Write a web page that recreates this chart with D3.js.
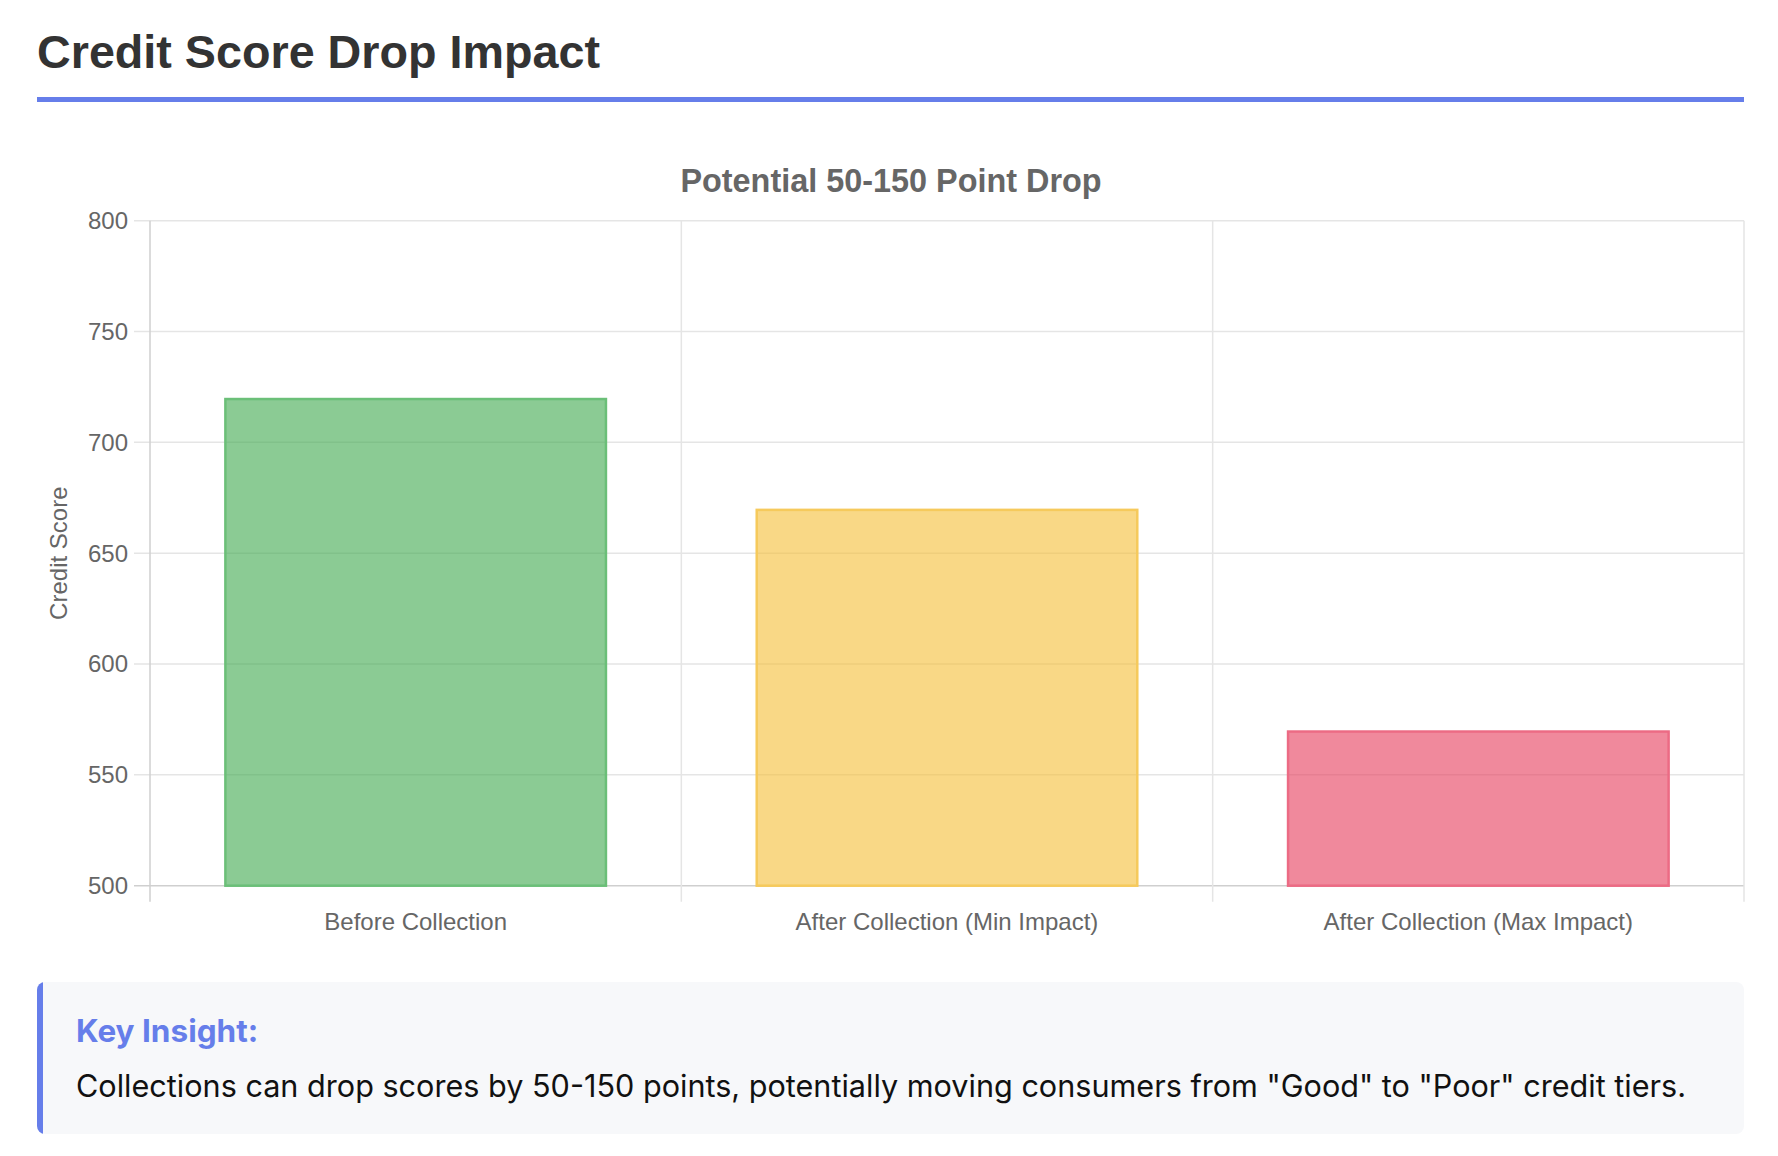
<!DOCTYPE html>
<html>
<head>
<meta charset="utf-8">
<script src="https://cdn.jsdelivr.net/npm/d3@7"></script>
<style>
  body { margin: 0; background: #fff; }
  svg { display: block; }
</style>
</head>
<body>
<svg id="chart" width="1778" height="1156"></svg>
<script>
// data
var categories = ['Before Collection', 'After Collection (Min Impact)', 'After Collection (Max Impact)'];
var scores = [720, 670, 570];
var fills = ['rgba(62,168,77,0.6)', 'rgba(245,190,53,0.6)', 'rgba(230,58,90,0.6)'];
var strokes = ['#6bbf78', '#f6ca5c', '#ec6b84'];
var yTicks = [500, 550, 600, 650, 700, 750, 800];

var svg = d3.select('#chart');
var chartFont = 'Liberation Sans, Helvetica, Arial, sans-serif';
var boxFont = 'Inter, Noto Sans, sans-serif';

// page heading
svg.append('text')
    .attr('x', 37).attr('y', 68)
    .attr('font-family', chartFont)
    .attr('font-weight', 'bold')
    .attr('font-size', 46.7)
    .attr('fill', '#333')
    .text('Credit Score Drop Impact');

svg.append('rect')
    .attr('x', 37).attr('y', 97)
    .attr('width', 1707).attr('height', 5)
    .attr('fill', '#667eea');

// plot area
var plot = {l: 150, r: 1744, t: 220.7, b: 885.7};

var x = d3.scaleBand().domain(categories).range([plot.l, plot.r]);
var y = d3.scaleLinear().domain([500, 800]).range([plot.b, plot.t]);

svg.append('text')
    .attr('x', 891).attr('y', 192)
    .attr('text-anchor', 'middle')
    .attr('font-family', chartFont)
    .attr('font-weight', 'bold')
    .attr('font-size', 32.4)
    .attr('fill', '#666')
    .text('Potential 50-150 Point Drop');

// horizontal grid
var g = svg.append('g');
g.selectAll('line.hgrid')
    .data(yTicks)
    .enter().append('line')
    .attr('class', 'hgrid')
    .attr('x1', plot.l - 16).attr('x2', plot.r)
    .attr('y1', function(d) { return y(d); })
    .attr('y2', function(d) { return y(d); })
    .attr('stroke', function(d) { return d == 500 ? '#cfcfcf' : '#e5e5e5'; })
    .attr('stroke-width', 1.5);

// vertical grid at category edges
var edges = categories.map(function(c) { return x(c); }).concat([plot.r]);
g.selectAll('line.vgrid')
    .data(edges)
    .enter().append('line')
    .attr('class', 'vgrid')
    .attr('x1', function(d) { return d; })
    .attr('x2', function(d) { return d; })
    .attr('y1', plot.t).attr('y2', plot.b + 16)
    .attr('stroke', function(d, i) { return i == 0 ? '#cfcfcf' : '#e5e5e5'; })
    .attr('stroke-width', 1.5);

// bars
var barW = x.bandwidth() * 0.72;
svg.selectAll('rect.bar')
    .data(scores)
    .enter().append('rect')
    .attr('class', 'bar')
    .attr('x', function(d, i) { return x(categories[i]) + (x.bandwidth() - barW) / 2 + 1; })
    .attr('y', function(d) { return y(d) + 1; })
    .attr('width', barW - 2)
    .attr('height', function(d) { return plot.b - y(d) - 1; })
    .attr('fill', function(d, i) { return fills[i]; })
    .attr('stroke', function(d, i) { return strokes[i]; })
    .attr('stroke-width', 2.5);

// y tick labels
svg.selectAll('text.ytick')
    .data(yTicks)
    .enter().append('text')
    .attr('class', 'ytick')
    .attr('x', 128)
    .attr('y', function(d) { return y(d); })
    .attr('dy', '0.35em')
    .attr('text-anchor', 'end')
    .attr('font-family', chartFont)
    .attr('font-size', 24)
    .attr('fill', '#666')
    .text(function(d) { return d; });

// x tick labels
svg.selectAll('text.xtick')
    .data(categories)
    .enter().append('text')
    .attr('class', 'xtick')
    .attr('x', function(d) { return x(d) + x.bandwidth() / 2; })
    .attr('y', 930)
    .attr('text-anchor', 'middle')
    .attr('font-family', chartFont)
    .attr('font-size', 24)
    .attr('fill', '#666')
    .text(function(d) { return d; });

// y axis title
svg.append('text')
    .attr('transform', 'translate(59,' + ((plot.t + plot.b) / 2) + ') rotate(-90)')
    .attr('dy', '0.35em')
    .attr('text-anchor', 'middle')
    .attr('font-family', chartFont)
    .attr('font-size', 24)
    .attr('fill', '#666')
    .text('Credit Score');

// key insight box
var box = {x: 37, y: 982, w: 1707, h: 152};
svg.append('clipPath').attr('id', 'boxClip')
  .append('rect')
    .attr('x', box.x).attr('y', box.y)
    .attr('width', box.w).attr('height', box.h)
    .attr('rx', 8);
var boxG = svg.append('g').attr('clip-path', 'url(#boxClip)');
boxG.append('rect')
    .attr('x', box.x).attr('y', box.y)
    .attr('width', box.w).attr('height', box.h)
    .attr('fill', '#f7f8fa');
boxG.append('rect')
    .attr('x', box.x).attr('y', box.y)
    .attr('width', 6).attr('height', box.h)
    .attr('fill', '#667eea');

svg.append('text')
    .attr('x', 76).attr('y', 1042)
    .attr('font-family', boxFont)
    .attr('font-weight', 'bold')
    .attr('font-size', 31.5)
    .attr('fill', '#667eea')
    .text('Key Insight:');

svg.append('text')
    .attr('x', 76).attr('y', 1097)
    .attr('font-family', boxFont)
    .attr('font-size', 30.6)
    .attr('fill', '#111')
    .text('Collections can drop scores by 50-150 points, potentially moving consumers from "Good" to "Poor" credit tiers.');
</script>
</body>
</html>
